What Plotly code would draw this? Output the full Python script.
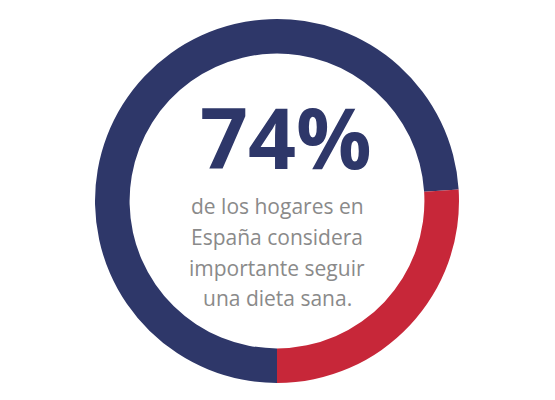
import plotly.graph_objects as go

# Share of households (percent)
labels = ["Considera importante", "Resto"]
values = [74, 26]
colors = ["#2E3769", "#C72739"]

headline = "74%"
body_lines = [
    "de los hogares en",
    "España considera",
    "importante seguir",
    "una dieta sana.",
]

W, H = 555, 400
cx, cy, r_out = 277, 201, 182

fig = go.Figure(
    go.Pie(
        labels=labels,
        values=values,
        marker=dict(colors=colors, line=dict(width=0)),
        hole=0.81,
        sort=False,
        direction="clockwise",
        rotation=180,
        textinfo="none",
        hoverinfo="label+percent",
        domain=dict(
            x=[(cx - r_out) / W, (cx + r_out) / W],
            y=[(H - cy - r_out) / H, (H - cy + r_out) / H],
        ),
        showlegend=False,
    )
)

annotations = [
    dict(
        text=f"<b>{headline}</b>",
        x=286 / W, y=1 - 136 / H,
        xref="paper", yref="paper",
        xanchor="center", yanchor="middle",
        showarrow=False,
        font=dict(family="Open Sans", size=84, color="#2E3769"),
    )
]
line_y = [206, 237, 268, 298]
for txt, yy in zip(body_lines, line_y):
    annotations.append(
        dict(
            text=txt,
            x=277 / W, y=1 - yy / H,
            xref="paper", yref="paper",
            xanchor="center", yanchor="middle",
            showarrow=False,
            font=dict(family="Open Sans", size=21, color="#8A8A8A"),
        )
    )

fig.update_layout(
    width=W, height=H,
    margin=dict(l=0, r=0, t=0, b=0),
    paper_bgcolor="white",
    plot_bgcolor="white",
    annotations=annotations,
)

fig.write_html("out.html")
